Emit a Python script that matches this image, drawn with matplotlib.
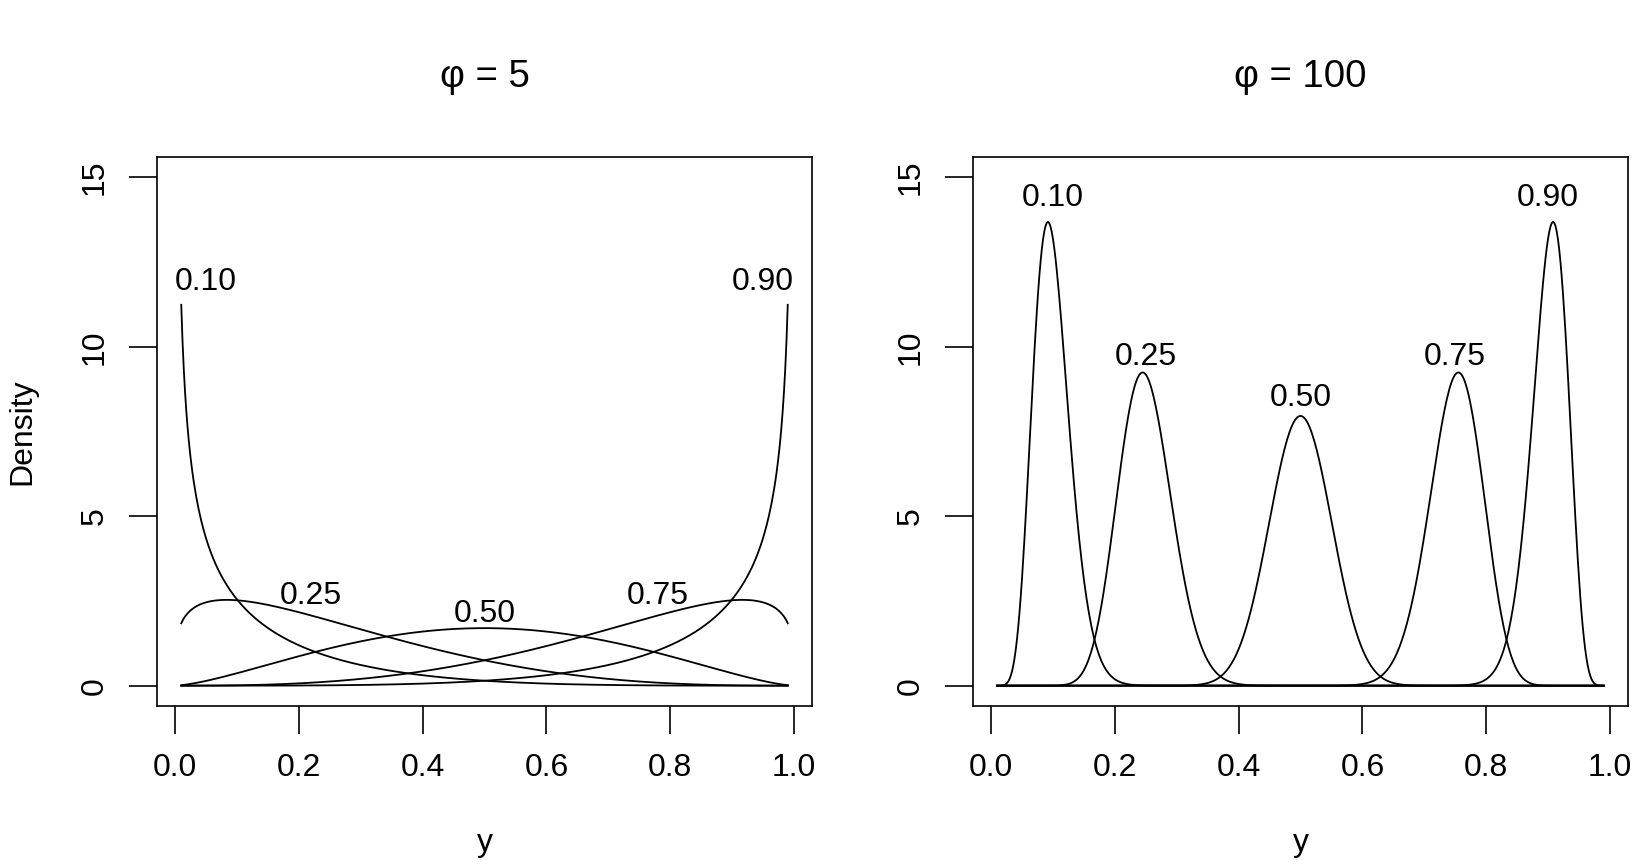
import math
import numpy as np
import matplotlib
matplotlib.use("Agg")
import matplotlib.pyplot as plt

plt.rcParams["font.family"] = ["Liberation Sans", "DejaVu Sans"]

# beta densities, mean mu and precision phi (a = mu*phi, b = (1-mu)*phi)
phis = [5, 100]
mus = [0.10, 0.25, 0.50, 0.75, 0.90]
mu_labels = ["0.10", "0.25", "0.50", "0.75", "0.90"]
y_from, y_to = 0.01, 0.99

# label positions (data units)
label_x = {5: [0.05, 0.22, 0.50, 0.78, 0.95],
           100: [0.10, 0.25, 0.50, 0.75, 0.90]}
label_y = {5: [11.9, 2.65, 2.1, 2.65, 11.9],
           100: [14.4, 9.7, 8.5, 9.7, 14.4]}


def dbeta(y, a, b):
    lb = math.lgamma(a) + math.lgamma(b) - math.lgamma(a + b)
    return np.exp((a - 1) * np.log(y) + (b - 1) * np.log1p(-y) - lb)


W, H = 1632, 864
fig = plt.figure(figsize=(W / 100, H / 100), dpi=100)

fs = 23
lefts = [157, 973]
box_w, box_top, box_bot = 655, 157, 706

grid = np.linspace(y_from, y_to, 491)
for left, phi in zip(lefts, phis):
    ax = fig.add_axes([left / W, 1 - box_bot / H, box_w / W, (box_bot - box_top) / H])
    for mu, lab, lx, ly in zip(mus, mu_labels, label_x[phi], label_y[phi]):
        ax.plot(grid, dbeta(grid, mu * phi, (1 - mu) * phi), color="black", lw=1.3)
        ax.text(lx, ly, lab, ha="center", va="center", fontsize=fs)

    ext = 0.04 * (y_to - y_from)
    ax.set_xlim(y_from - ext, y_to + ext)
    ax.set_ylim(-0.6, 15.6)
    ax.set_xticks([0.0, 0.2, 0.4, 0.6, 0.8, 1.0])
    ax.set_xticklabels(["0.0", "0.2", "0.4", "0.6", "0.8", "1.0"])
    ax.set_yticks([0, 5, 10, 15])
    ax.tick_params(length=20, width=1.2, labelsize=fs, pad=14)
    ax.tick_params(axis="y", labelrotation=90)
    for lbl in ax.get_yticklabels():
        lbl.set_verticalalignment("center")
    for s in ax.spines.values():
        s.set_linewidth(1.2)

    cx = (left + box_w / 2) / W
    fig.text(cx, 1 - 86.7 / H, f"φ = {phi}", ha="center", va="baseline",
             fontsize=fs * 1.2)
    fig.text(cx, 1 - 851 / H, "y", ha="center", va="baseline", fontsize=fs)

fig.text(22 / W, 1 - 431.5 / H, "Density", rotation=90, ha="center",
         va="center", fontsize=fs)

fig.savefig("out.png", dpi=100)
